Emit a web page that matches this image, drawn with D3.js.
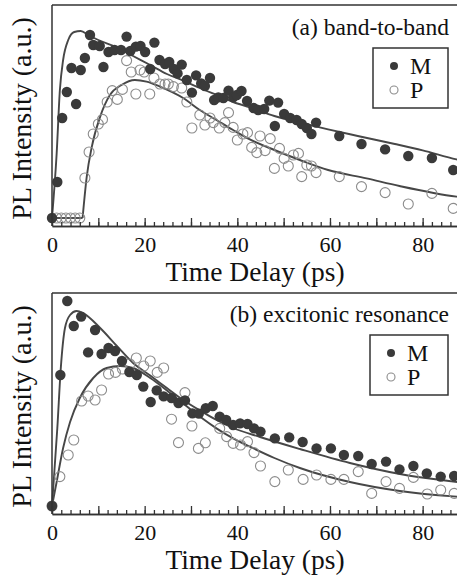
<!DOCTYPE html>
<html>
<head>
<meta charset="utf-8">
<script src="https://cdn.jsdelivr.net/npm/d3@7"></script>
<style>
  html, body { margin: 0; padding: 0; background: #fff; }
  svg { display: block; }
  text { font-family: "Liberation Serif", "Times New Roman", serif; fill: #111; }
</style>
</head>
<body>
<script>
// ---------- data (time in ps, normalized PL intensity) ----------
const xTickLabels = [0, 20, 40, 60, 80];
const panelTitles = ["(a) band-to-band", "(b) excitonic resonance"];
const seriesNames = ["M", "P"];
const xAxisTitle = "Time Delay (ps)";
const yAxisTitle = "PL Intensity (a.u.)";

const bandM = [[0,0],[1.15,0.18],[2.2,0.50],[3.2,0.63],[4.2,0.75],[5.2,0.57],[6.2,0.74],[7.1,0.80],[8.2,0.915],[8.9,0.865],[10.3,0.86],[11.1,0.755],[12.2,0.83],[13.5,0.84],[14.9,0.84],[16.1,0.907],[16.9,0.835],[18.1,0.857],[19.1,0.86],[20.1,0.83],[21.2,0.745],[22.1,0.877],[23.2,0.79],[24.4,0.77],[25.3,0.78],[26.3,0.745],[27.1,0.723],[28.0,0.767],[29.1,0.69],[30.2,0.627],[31.1,0.713],[32.2,0.673],[33.0,0.66],[34.1,0.70],[35.0,0.59],[35.9,0.603],[37.0,0.60],[38.1,0.637],[39.1,0.603],[39.9,0.615],[40.9,0.635],[42.1,0.585],[43.5,0.55],[44.5,0.54],[45.8,0.545],[46.9,0.587],[48.1,0.46],[48.8,0.577],[50.1,0.52],[51.4,0.50],[52.8,0.49],[53.9,0.47],[55.0,0.45],[56.0,0.42],[57.0,0.477],[62.0,0.41],[66.8,0.37],[71.9,0.343],[76.9,0.31],[82.0,0.30],[86.6,0.24]];
const bandP = [[1,0],[2,0],[3,0],[4,0],[5,0],[6,0],[7.1,0.2],[8.0,0.33],[8.9,0.42],[10.0,0.47],[10.9,0.493],[11.9,0.58],[13.0,0.637],[14.1,0.593],[15.2,0.643],[16.1,0.787],[17.1,0.73],[18.1,0.62],[19.0,0.74],[19.9,0.73],[21.1,0.62],[22.0,0.70],[23.3,0.67],[24.4,0.67],[25.1,0.67],[26.2,0.657],[28.0,0.65],[29.1,0.58],[30.2,0.45],[31.9,0.515],[33.0,0.465],[34.1,0.50],[34.8,0.477],[36.1,0.45],[37.3,0.477],[38.1,0.527],[39.1,0.453],[40.0,0.39],[41.2,0.42],[42.2,0.427],[43.1,0.353],[44.2,0.327],[44.9,0.41],[46.0,0.337],[47.1,0.397],[48.0,0.248],[49.1,0.348],[50.1,0.298],[51.0,0.26],[52.1,0.315],[53.2,0.323],[53.9,0.207],[55.0,0.265],[56.0,0.26],[57.0,0.227],[62.0,0.207],[66.8,0.157],[71.9,0.127],[76.9,0.07],[82.0,0.123],[86.6,0.048]];
const bandMFit = [[0,0],[1.0,0.32],[1.7,0.64],[2.4,0.79],[3.5,0.89],[4.8,0.93],[6.2,0.935],[7.8,0.915],[10.0,0.89],[14.0,0.853],[17.5,0.81],[21.2,0.765],[24.8,0.72],[28.3,0.687],[31.9,0.65],[35.5,0.615],[39.1,0.58],[42.7,0.553],[48,0.51],[53.5,0.477],[59.6,0.443],[66,0.41],[74,0.37],[80,0.338],[87.3,0.293],[90,0.28]];
const bandPFit = [[6.6,0],[7.5,0.207],[8.6,0.357],[10.4,0.507],[12.5,0.615],[15.0,0.665],[17.9,0.69],[20.4,0.682],[23.3,0.657],[28.3,0.60],[31.9,0.54],[35.5,0.49],[39.1,0.44],[42.7,0.393],[48,0.34],[53.5,0.29],[59.6,0.24],[67.9,0.198],[75,0.16],[87.3,0.107],[90,0.1]];

const excM = [[0,0],[1.8,0.655],[3.3,1.025],[4.7,0.90],[6.3,0.947],[7.8,0.768],[9.3,0.88],[10.7,0.76],[12.2,0.79],[13.6,0.775],[15.1,0.725],[16.7,0.67],[18.3,0.655],[19.7,0.597],[21.3,0.52],[22.6,0.578],[24.1,0.548],[25.8,0.54],[27.3,0.515],[28.7,0.528],[30.3,0.463],[31.7,0.462],[33.2,0.489],[34.7,0.50],[36.2,0.447],[37.6,0.43],[39.1,0.405],[40.6,0.413],[42.2,0.41],[43.6,0.388],[45.0,0.372],[48.1,0.338],[51.2,0.343],[54.1,0.32],[57.1,0.288],[60.2,0.288],[63.0,0.255],[66.1,0.25],[69.0,0.21],[72.1,0.222],[75.0,0.183],[78.0,0.20],[80.9,0.163],[83.9,0.147],[86.8,0.15]];
const excP = [[0,0],[1.7,0.147],[3.5,0.255],[4.7,0.33],[6.4,0.525],[7.8,0.55],[9.3,0.53],[10.7,0.58],[12.2,0.66],[13.7,0.668],[15.2,0.685],[16.8,0.71],[18.2,0.74],[19.8,0.70],[21.2,0.725],[22.7,0.668],[24.1,0.69],[25.8,0.434],[27.3,0.317],[28.7,0.567],[30.2,0.40],[31.6,0.288],[33.1,0.316],[36.2,0.388],[37.7,0.347],[39.1,0.313],[40.7,0.305],[42.2,0.322],[43.6,0.267],[45.0,0.20],[48.1,0.122],[51.0,0.18],[54.2,0.133],[57.1,0.155],[60.2,0.133],[63.0,0.133],[66.1,0.172],[69.0,0.063],[72.1,0.122],[75.0,0.088],[78.0,0.143],[81.0,0.06],[83.9,0.08],[86.8,0.063]];
const excMFit = [[0,0],[1.15,0.39],[1.9,0.69],[2.8,0.89],[3.9,0.955],[5.3,0.975],[6.8,0.963],[10.4,0.89],[14.0,0.80],[17.5,0.715],[21.2,0.652],[24.8,0.59],[28.3,0.53],[31.9,0.478],[35.5,0.43],[39.1,0.39],[44.9,0.345],[53.5,0.285],[64.3,0.215],[75.1,0.16],[86.6,0.122],[90,0.112]];
const excPFit = [[0,0],[1.0,0.12],[2.4,0.29],[3.9,0.42],[6.0,0.54],[8.9,0.64],[11.8,0.69],[14.7,0.70],[17.5,0.69],[21.2,0.64],[24.8,0.578],[28.3,0.513],[31.9,0.447],[35.5,0.388],[39.1,0.338],[42.7,0.297],[48,0.24],[53.5,0.19],[64.3,0.12],[75.1,0.075],[86.6,0.048],[90,0.043]];

// ---------- layout ----------
const W = 457, H = 578;
const svg = d3.select("body").append("svg").attr("width", W).attr("height", H);
svg.append("rect").attr("width", W).attr("height", H).attr("fill", "#fff");

const x = d3.scaleLinear().domain([0, 90]).range([52, 52 + 90 * 4.633]);

const panels = [
  { top: 5, bottom: 226, title: panelTitles[0], M: bandM, P: bandP, MFit: bandMFit, PFit: bandPFit,
    legend: { x: 373, y: 48, w: 75, h: 60 }, titleY: 35 },
  { top: 293, bottom: 514, title: panelTitles[1], M: excM, P: excP, MFit: excMFit, PFit: excPFit,
    legend: { x: 370, y: 335, w: 78, h: 60 }, titleY: 322 }
];

const frameColor = "#333";
const lineColor = "#474747";
const filledColor = "#3a3a3a";
const openColor = "#8c8c8c";

panels.forEach(p => {
  const y = d3.scaleLinear().domain([-0.04, 1.065]).range([p.bottom, p.top]);
  const g = svg.append("g");

  // fit curves
  const line = d3.line().x(d => x(d[0])).y(d => y(d[1])).curve(d3.curveMonotoneX);
  if (p.PFit[0][0] > 0) {
    g.append("line").attr("x1", x(0)).attr("x2", x(p.PFit[0][0]))
      .attr("y1", y(0)).attr("y2", y(0)).attr("stroke", lineColor).attr("stroke-width", 1.9);
  }
  [p.MFit, p.PFit].forEach(f => {
    g.append("path").datum(f).attr("d", line).attr("fill", "none")
      .attr("stroke", lineColor).attr("stroke-width", 1.9);
  });

  // open circles (P)
  g.selectAll(null).data(p.P).enter().append("circle")
    .attr("cx", d => x(d[0])).attr("cy", d => y(d[1])).attr("r", 5)
    .attr("fill", "none").attr("stroke", openColor).attr("stroke-width", 1.1);
  // filled circles (M)
  g.selectAll(null).data(p.M).enter().append("circle")
    .attr("cx", d => x(d[0])).attr("cy", d => y(d[1])).attr("r", 5.2)
    .attr("fill", filledColor);

  // frame: top and left
  g.append("line").attr("x1", x(0)).attr("x2", W).attr("y1", p.top).attr("y2", p.top)
    .attr("stroke", frameColor).attr("stroke-width", 1.5);
  g.append("line").attr("x1", x(0)).attr("x2", x(0)).attr("y1", p.top).attr("y2", p.bottom)
    .attr("stroke", frameColor).attr("stroke-width", 1.5);

  // x axis: minor ticks (every 2), mid ticks (every 10), labels at 20s
  const minor = d3.range(0, 90, 2);
  const mid = d3.range(0, 90, 10);
  const axMinor = d3.axisBottom(x).tickValues(minor).tickSizeInner(-4).tickSizeOuter(0).tickFormat("");
  const gMinor = g.append("g").attr("transform", `translate(0,${p.bottom})`).call(axMinor);
  const axMid = d3.axisBottom(x).tickValues(mid).tickSizeInner(-8).tickSizeOuter(0).tickFormat("");
  const gMid = g.append("g").attr("transform", `translate(0,${p.bottom})`).call(axMid);
  const axLab = d3.axisBottom(x).tickValues(xTickLabels).tickSize(0).tickPadding(10).tickFormat(d3.format("d"));
  const gLab = g.append("g").attr("transform", `translate(0,${p.bottom})`).call(axLab);
  [gMinor, gMid, gLab].forEach(a => {
    a.selectAll("line").attr("stroke", frameColor).attr("stroke-width", 1.3);
    a.select(".domain").attr("stroke", frameColor).attr("stroke-width", 1.5);
  });
  gLab.select(".domain").remove();
  gLab.selectAll("text").style("font-family", '"Liberation Serif", serif')
    .style("font-size", "22px").attr("fill", "#111");

  // axis titles
  g.append("text").attr("x", 255).attr("y", p.bottom + 55).attr("text-anchor", "middle")
    .style("font-size", "27.5px").text(xAxisTitle);
  g.append("text").attr("transform", `translate(31,${(p.top + p.bottom) / 2 + 3}) rotate(-90)`)
    .attr("text-anchor", "middle").style("font-size", "28px").text(yAxisTitle);

  // panel title
  g.append("text").attr("x", 449).attr("y", p.titleY).attr("text-anchor", "end")
    .style("font-size", "23.5px").text(p.title);

  // legend
  const L = p.legend;
  const lg = g.append("g");
  lg.append("rect").attr("x", L.x).attr("y", L.y).attr("width", L.w).attr("height", L.h)
    .attr("fill", "#fff").attr("stroke", frameColor).attr("stroke-width", 1.5);
  const rows = [
    { name: seriesNames[0], filled: true, cy: L.y + 18 },
    { name: seriesNames[1], filled: false, cy: L.y + 42 }
  ];
  rows.forEach(r => {
    lg.append("circle").attr("cx", L.x + 21).attr("cy", r.cy).attr("r", 4)
      .attr("fill", r.filled ? filledColor : "none")
      .attr("stroke", r.filled ? "none" : openColor).attr("stroke-width", 1.1);
    lg.append("text").attr("x", L.x + 37).attr("y", r.cy + 8)
      .style("font-size", "24px").text(r.name);
  });
});
</script>
</body>
</html>
